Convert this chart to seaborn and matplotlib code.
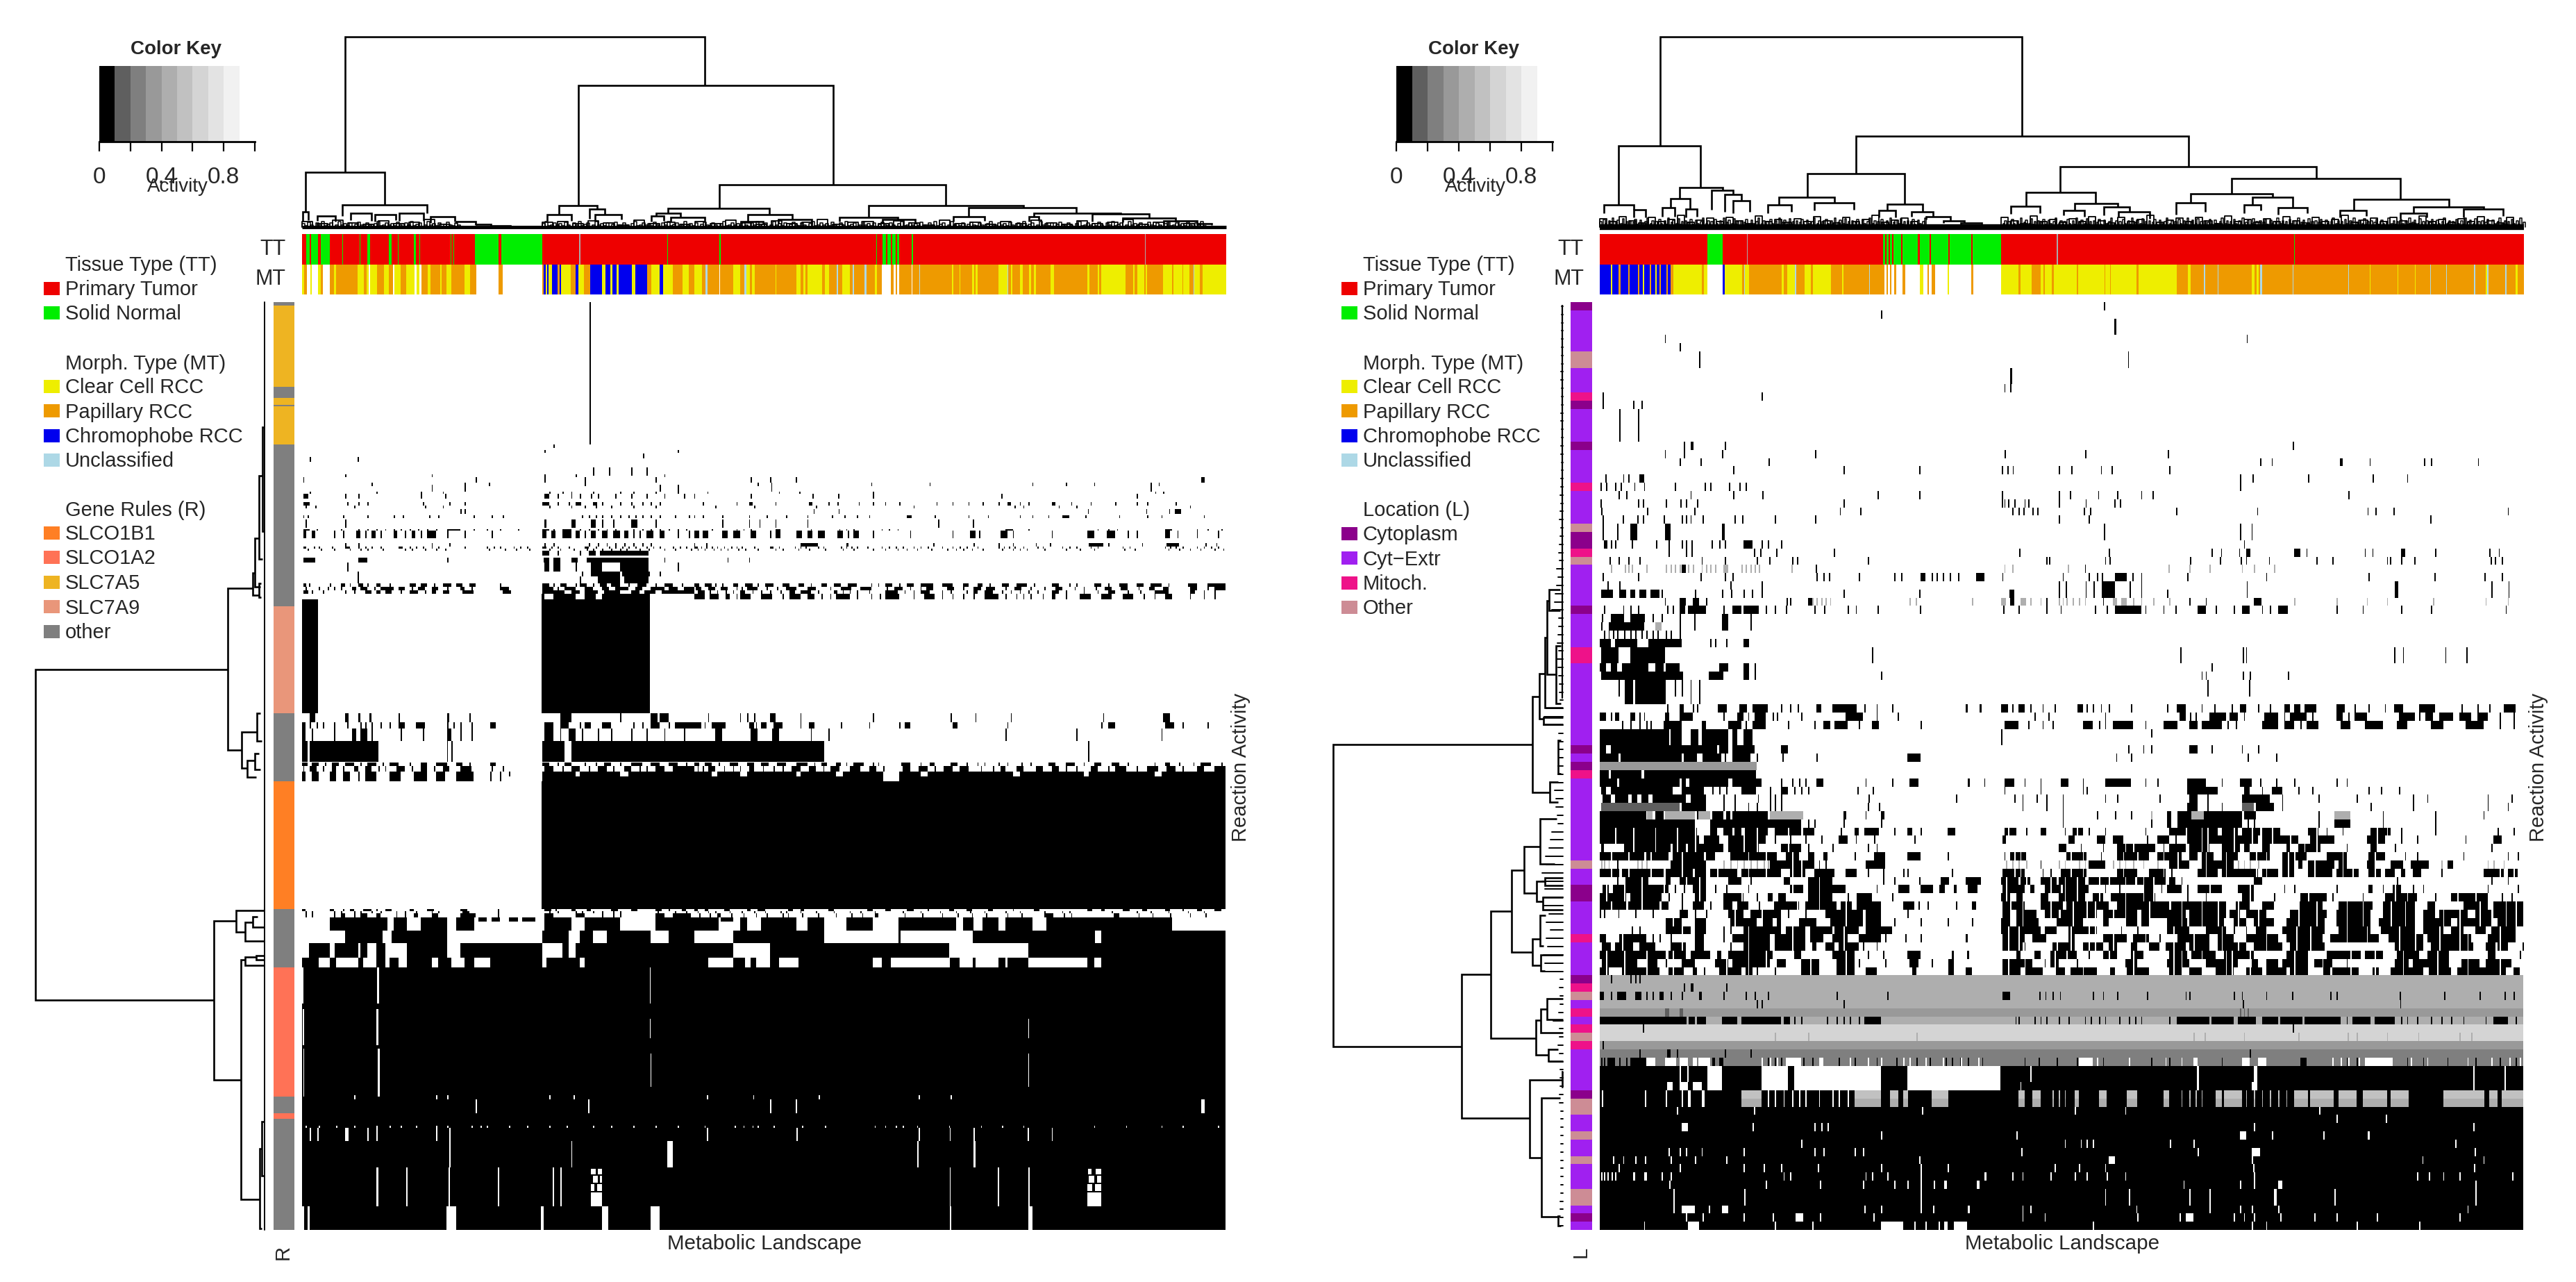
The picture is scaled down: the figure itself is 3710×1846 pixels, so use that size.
import matplotlib
matplotlib.use("Agg")
import numpy as np
import matplotlib.pyplot as plt
import seaborn as sns
from matplotlib.colors import ListedColormap
from matplotlib.patches import Rectangle

sns.set_theme(style="white")
plt.rcParams["font.family"] = ["Liberation Sans", "DejaVu Sans"]

# ---- activity levels ----
BK, G1, G2, G3, G4, G5, G6 = 0.05, 0.15, 0.25, 0.35, 0.45, 0.55, 0.65
WH = 1.0
key_values = [0.05, 0.15, 0.25, 0.35, 0.45, 0.55, 0.65, 0.75, 0.85, 1.0]
key_colors = ["#000000", "#5f5f5f", "#7f7f7f", "#999999", "#aeaeae",
              "#c1c1c1", "#d4d4d4", "#e3e3e3", "#f1f1f1", "#ffffff"]
key_ticks = ["0", "", "0.4", "", "0.8", ""]

tissue_names = ["Primary Tumor", "Solid Normal"]
tissue_colors = ["#ee0000", "#00ee00"]
morph_names = ["Clear Cell RCC", "Papillary RCC", "Chromophobe RCC", "Unclassified"]
morph_colors = ["#eeee00", "#ee9a00", "#0000ee", "#add8e6"]
gene_names = ["SLCO1B1", "SLCO1A2", "SLC7A5", "SLC7A9", "other"]
gene_colors = ["#ff7f24", "#ff7256", "#eeb422", "#e9967a", "#7f7f7f"]
loc_names = ["Cytoplasm", "Cyt\u2212Extr", "Mitoch.", "Other"]
loc_colors = ["#8b008b", "#a020f0", "#ee1289", "#cd8c95"]

strip_colors = {"R": "#ee0000", "G": "#00ee00", "A": "#aaaaaa", "W": "#ffffff", "Y": "#eeee00",
                "O": "#ee9a00", "B": "#0000ee", "L": "#add8e6"}
strip_keys = list(strip_colors)

N_COLS = 1331
N_ROWS_LEFT = 1336
N_ROWS_RIGHT = 113

# ---- sample strips: (first sample, class) ----
tt_left = [(0, "R"), (6, "G"), (11, "R"), (13, "G"), (23, "R"), (27, "G"), (40, "R"), (58, "G"), (59, "R"),
           (83, "G"), (84, "R"), (94, "G"), (98, "R"), (125, "G"), (129, "R"), (138, "G"), (139, "R"), (161, "G"),
           (164, "R"), (169, "G"), (170, "R"), (214, "G"), (215, "R"), (218, "G"), (219, "R"), (249, "G"),
           (283, "R"), (287, "G"), (346, "R"), (399, "A"), (401, "R"), (526, "G"), (527, "R"), (601, "G"),
           (603, "R"), (827, "G"), (828, "R"), (836, "G"), (841, "R"), (843, "G"), (848, "R"), (850, "G"),
           (855, "R"), (857, "G"), (860, "R"), (878, "G"), (880, "R"), (1214, "A"), (1215, "R")]
mt_left = [(0, "Y"), (3, "O"), (7, "W"), (12, "Y"), (14, "W"), (23, "Y"), (27, "O"), (30, "W"), (40, "O"),
           (46, "Y"), (49, "O"), (80, "Y"), (89, "O"), (93, "Y"), (96, "W"), (98, "Y"), (108, "O"), (118, "Y"),
           (125, "O"), (131, "W"), (133, "Y"), (142, "O"), (150, "Y"), (162, "W"), (165, "Y"), (169, "W"),
           (172, "O"), (181, "Y"), (185, "O"), (199, "Y"), (201, "O"), (208, "Y"), (215, "O"), (234, "Y"),
           (242, "O"), (251, "W"), (283, "O"), (289, "W"), (346, "O"), (348, "B"), (351, "Y"), (353, "B"),
           (355, "Y"), (360, "B"), (368, "O"), (371, "B"), (373, "Y"), (387, "O"), (394, "B"), (398, "Y"),
           (406, "O"), (415, "B"), (432, "Y"), (437, "B"), (444, "Y"), (447, "B"), (453, "Y"), (456, "B"),
           (475, "Y"), (480, "B"), (497, "O"), (503, "Y"), (515, "B"), (520, "Y"), (534, "O"), (548, "Y"),
           (557, "O"), (565, "Y"), (574, "Y"), (576, "O"), (581, "L"), (584, "O"), (601, "W"), (602, "O"),
           (621, "Y"), (631, "O"), (637, "L"), (640, "Y"), (645, "O"), (648, "Y"), (652, "O"), (682, "Y"),
           (683, "O"), (712, "Y"), (718, "O"), (722, "Y"), (725, "O"), (728, "Y"), (749, "O"), (753, "Y"),
           (759, "O"), (770, "L"), (772, "O"), (778, "Y"), (783, "Y"), (789, "O"), (793, "L"), (795, "O"),
           (810, "L"), (813, "O"), (825, "Y"), (828, "O"), (835, "W"), (848, "O"), (852, "W"), (855, "O"),
           (857, "W"), (860, "O"), (878, "W"), (879, "O"), (889, "L"), (890, "O"), (936, "Y"), (938, "O"),
           (941, "O"), (947, "Y"), (948, "O"), (965, "Y"), (968, "O"), (970, "Y"), (973, "O"), (1003, "Y"),
           (1016, "L"), (1017, "O"), (1021, "Y"), (1023, "O"), (1029, "O"), (1034, "Y"), (1038, "O"), (1047, "Y"),
           (1050, "O"), (1054, "Y"), (1057, "O"), (1078, "Y"), (1083, "O"), (1131, "Y"), (1134, "O"), (1139, "O"),
           (1146, "Y"), (1148, "O"), (1151, "Y"), (1186, "O"), (1197, "Y"), (1199, "O"), (1203, "Y"), (1213, "O"),
           (1215, "Y"), (1217, "O"), (1240, "Y"), (1253, "O"), (1255, "Y"), (1268, "O"), (1269, "Y"), (1278, "O"),
           (1284, "L"), (1285, "Y"), (1293, "O"), (1297, "Y")]
tt_right = [(0, "R"), (155, "G"), (177, "R"), (212, "A"), (213, "R"), (408, "G"), (411, "R"), (413, "G"),
            (416, "R"), (418, "G"), (421, "R"), (423, "G"), (434, "R"), (436, "G"), (458, "R"), (461, "G"),
            (475, "R"), (477, "G"), (502, "R"), (504, "G"), (535, "R"), (537, "G"), (578, "R"), (658, "A"),
            (660, "R"), (1000, "G"), (1001, "R")]
mt_right = [(0, "B"), (16, "Y"), (18, "B"), (27, "O"), (30, "B"), (41, "O"), (43, "B"), (55, "O"), (57, "B"),
            (62, "Y"), (64, "B"), (72, "O"), (74, "B"), (80, "Y"), (82, "B"), (86, "O"), (88, "B"),
            (96, "O"), (98, "B"), (102, "O"), (106, "Y"), (117, "Y"), (147, "O"), (150, "Y"), (155, "W"),
            (177, "B"), (180, "Y"), (205, "O"), (208, "L"), (209, "Y"), (215, "O"), (220, "O"), (262, "Y"),
            (265, "O"), (270, "Y"), (281, "L"), (283, "O"), (295, "Y"), (304, "O"), (307, "Y"), (333, "O"),
            (349, "Y"), (351, "O"), (388, "L"), (389, "O"), (410, "W"), (413, "O"), (415, "W"), (418, "O"),
            (420, "W"), (424, "O"), (427, "W"), (436, "O"), (440, "W"), (461, "Y"), (466, "W"), (472, "O"),
            (474, "W"), (478, "O"), (483, "W"), (501, "Y"), (503, "W"), (535, "O"), (538, "W"), (578, "Y"),
            (603, "O"), (606, "Y"), (622, "O"), (635, "Y"), (639, "O"), (641, "Y"), (651, "O"), (654, "Y"),
            (687, "O"), (689, "Y"), (727, "O"), (728, "Y"), (735, "O"), (736, "Y"), (773, "O"), (776, "Y"),
            (831, "O"), (847, "Y"), (851, "O"), (870, "L"), (872, "O"), (890, "L"), (891, "O"), (939, "Y"),
            (943, "O"), (946, "Y"), (949, "O"), (951, "L"), (954, "O"), (998, "L"), (999, "O"), (1078, "L"),
            (1079, "O"), (1109, "Y"), (1110, "O"), (1149, "Y"), (1150, "O"), (1174, "Y"), (1175, "O"), (1196, "L"),
            (1197, "O"), (1219, "L"), (1220, "O"), (1259, "L"), (1261, "O"), (1276, "Y"), (1278, "L"), (1280, "O"),
            (1304, "L"), (1306, "O"), (1319, "Y"), (1322, "O")]

# row side bars: (first row/pixel row, class index)
gene_left = [(0, 4), (5, 2), (122, 4), (138, 2), (148, 4), (150, 2), (205, 4), (438, 3), (592, 4), (690, 0),
             (874, 4), (958, 1), (1144, 4), (1168, 1), (1176, 4)]
loc_right = [(0, 0), (1, 1), (6, 3), (8, 1), (11, 2), (12, 0), (13, 1), (17, 0), (18, 1), (22, 2), (23, 1),
             (27, 3), (28, 0), (30, 2), (31, 3), (32, 1), (37, 0), (38, 1), (42, 2), (44, 1), (54, 0), (55, 1),
             (56, 0), (57, 2), (58, 1), (68, 3), (69, 1), (71, 0), (73, 1), (77, 2), (78, 1), (82, 0), (83, 2),
             (84, 3), (85, 1), (86, 2), (87, 1), (88, 2), (89, 3), (90, 2), (91, 1), (96, 0), (97, 3), (99, 1),
             (101, 3), (102, 1), (104, 3), (105, 1), (108, 3), (110, 1), (111, 0), (112, 1)]

# ---- cell bands: (first row, last row, activity, runs on crop scale A, runs on crop scale B) ----
A_LEFT, B_LEFT = (0.638, -435), (0.51, 565)
A_RIGHT, B_RIGHT = (0.638, -424), (0.58, 496)

bands_left = [
    (0, 205, BK, "1331", ""),
    (205, 210, BK, "1250", ""), (213, 217, BK, "1230 1530", ""), (218, 225, BK, "1452", ""),
    (223, 230, BK, "700 808", ""), (238, 250, BK, "1340 1375 1425 1460", ""),
    (248, 252, BK, "780 975 1230 1300 1500", ""),
    (252, 260, BK, "685 1075 1230 1320 1480", "160 215 288 1433-1443"),
    (260, 265, BK, "840 1050 1105 1320", "180 218 500 665 955 1050 1130 1290 1312"),
    (263, 273, BK, "975 1050 1490 1530", "218 1290"),
    (273, 276, BK, "700 850 950 1000 1240 1270 1290 1340 1400 1430 1480 1530", "38 240 298 505 1302 1325"),
    (276, 283, BK, "685-697 780 810 950 1005 1230-1240 1260 1290 1310 1335 1350 1390 1425 1460 1500 1545",
     "0 335 868 160 407 505 1250"),
    (288, 293, BK, "685-700 785 810 830 955 1015 1050 1225-1240 1260 1285 1300-1312 1340-1348 1360 1400 1425 1450 1470 1490",
     "25 120 155-165 230 325-335 380 405 465 505 540 580 685 730 775 815 860 885-895 920 945 1010-1020 1065 1120 1190 1250 1280 1360"),
    (293, 297, BK, "690 712 800 960 1000 1240 1290 1320 1345 1380 1430 1480",
     "60 170 345 620 905 930 1030 1080 1400"),
    (298, 305, BK, "1040 1050", "338 408 1112 1277 1342 1358-1376"),
    (307, 311, BK, "685 695 775 830 890 910 970 990 1070 1110 1135 1315 1330 1345 1360 1380 1400 1420 1435 1450 1470 1490 1525 1555",
     "0 25 80 155 205 260 320 390 425 460 495 600-615 680 775 830 920 955 1000 1040-1060 1105 1200 1280 1320 1440"),
    (313, 325, BK, "690 780 1230-1235 1290-1300 1335-1345 1360 1385 1425-1440 1480", "80 155 185 230 320 690 788"),
    (327, 329, BK, "685-700 715 770 810 830 850 870 890 905 925 945 965 985 1010-1040 1070 1100 1130 1170 1225-1240 1250 1270-1290 1310 1330 1350 1370 1390 1430 1450 1470 1490 1510 1530 1550",
     "50 120 140 160 230-245 330 410 430 450 530 550 575 880-900 945 1140 1170 1195 1330-1350 1420 1450 1490"),
    (329, 340, BK, "685-692 705-712 755 775 805-815 825 840-848 860 890-897 915 930-938 950 965-985 1010 1050 1110 1225-1235 1245-1255 1270-1290 1300-1310 1320 1335-1345 1360-1372 1385-1400 1410-1420 1430 1445 1460-1475 1490-1500 1530 1555",
     "0-15 25-40 80-95 110-130 160-175 215 230-245 290-305 320-335 350-370 405-420 435 450-465 505 610 730 780-795 805 865-885 900 1010 1110-1130 1165-1190 1225 1250 1330-1345 1365 1420 1480"),
    (347, 352, BK, "780 810 975 1015 1230 1250 1330 1350 1370 1390 1410 1430 1450 1470", "0 35 300-350 430-436 675-680 790 860 900 965 1005 1115-1155 1170 1265 1335-1370 1445 1475"),
    (352, 355, BK, "685-692 710 720 750 780-790 810 825 840 860 900-910 925 940 955 975 990 1050 1100 1115 1130 1160 1175 1190 1225-1235 1245 1260 1285 1320-1330 1345 1375 1390 1405 1420 1435 1460 1475 1490 1520 1535 1550",
     "0-10 20 35 50 65 85 105 120 135 170 215-225 240 285 300 315 350 365 415 430 445 460 490 530 550 570 590 620 640 660 700 730 750 770 800 860 875 890 905 930 970 985 1040 1060 1080 1120 1140 1210 1230 1330 1345 1360 1380 1420 1440 1460 1480"),
    (355, 358, BK, "695 725 755 790 815 830 865 915 930 960 985 1005 1105 1140 1165 1195 1240 1265 1295 1325 1340 1360 1380 1400 1415 1445 1465 1500 1525 1560",
     "10 30 55 75 95 125 145 180 230 250 295 325 370 420 450 505 540 575 600 630 670 715 740 760 785 815 870 900 920 940 990 1050 1090 1130 1215 1245 1340 1370 1400 1430 1470 1495"),
    (358, 365, BK, "1225-1240 1260 1310 1330-1345 1355-1465", ""),
    (368, 375, BK, "685-712 810-830 1010 1228-1240 1250-1265 1290-1305 1325-1465 1500", "95 155"),
    (375, 388, BK, "785 1230-1240 1250-1265 1300 1335-1360 1400-1465 1530", ""),
    (388, 395, BK, "808 1315 1335-1400 1405-1468 1490", ""),
    (395, 405, BK, "808 1310 1350-1400 1410-1465", ""),
    (405, 410, BK, "685-692 698 745 770-780 790 810-820 830 850-860 880 925-940 950-965 980 1000-1020 1030-1045 1060-1075 1130 1225-1240 1250 1265-1280 1300 1310-1325 1340 1355-1370 1380-1400 1420 1440-1460 1480 1500-1520 1540",
     "0-15 30-50 60 80 110-125 145-165 180 200-225 250-270 295-310 330 360-375 395-415 435-460 500 520 540-560 580 600-620 640-675 700-730 760-775 800-815 835 870-890 910-940 960 1010-1030 1060 1080 1130-1150 1170 1200-1225 1250-1270 1290-1320 1340 1395-1420 1450-1500"),
    (410, 415, BK, "690 720 740 755 770 795-805 815-830 845 860-890 900-915 930 945-960 975-990 1010 1040-1050 1065 1130-1150 1225-1250 1260 1275-1300 1320-1340 1360-1375 1390-1420 1435-1450 1470-1500 1510-1530 1545-1568",
     "5-20 40-60 75-95 120 135 150-180 205 235 260-290 320-345 385 415-445 470-500 545 565-590 610 640 655-675 715-735 760 790-810 825-850 880 905-925 950 990 1020-1040 1075 1100 1135 1160-1180 1205-1225 1255 1285-1300 1325-1340 1400-1420 1450 1470-1500"),
    (415, 420, BK, "685-697 705 730 780 800 825-840 850-860 870-885 905 925-945 960 975-985 1000-1015 1045-1070 1135-1155 1225-1275 1290-1310 1320-1350 1365-1400 1425-1445 1455-1480 1495-1568",
     "10-30 45 65 90 110 130-145 165 190 215 245 270-285 300-330 350 395-405 420 440 460 495 540-575 595 620 640-665 700 725 770 790-800 820-845 870 895 920 945 970 1010-1030 1050 1100 1140 1170-1190 1225 1260 1300-1340 1400-1415 1440 1470"),
    (420, 428, BK, "1223-1230 1250-1300 1320-1345 1360-1468", "0-30 45-70 90-100 120 130-160 190-220 250 270-300 320-340 360 385 400-440 460 500 525 540-580 620 650-680 700 730 760 790 820-860 880 910 930 950 985 1010-1020 1050 1090-1120 1150-1180 1210-1240 1270 1300 1330-1350 1400 1440 1470"),
    (428, 592, BK, "682-718 1223-1468", ""),
    (592, 605, BK, "700-712 780-787 810-815 835-840 900 1010-1015 1060 1265-1290 1400 1470-1485 1490-1510",
     "40 130 150 170 215-230 300 505 725 795 895 1155 1325-1345"),
    (605, 614, BK, "682-690 700 715 730 755 785 815 825 840 860 880 900-915 940-960 1010 1025 1040 1065 1107-1120 1230-1250 1265-1285 1310 1320-1335 1360-1380 1430 1450 1470-1490 1510 1525-1568",
     "0-20 30 50-90 155-170 175 190-205 225-250 300 325-340 415 495 580 595-610 730-745 885 1150 1170-1190 1330-1355 1380 1450"),
    (614, 632, BK, "682-690 705 755 795-805 815-830 840 905 955 1010-1020 1040 1065 1230-1250 1265 1285-1300 1315 1350 1380 1425 1460 1500 1545",
     "60-80 160-180 220-240 330 380 880 1080 1320"),
    (632, 662, BK, "682-695 700-855 1010-1012 1020-1023 1225-1275 1290-1568", "0-368 1112-1117"),
    (663, 668, BK, "682-695 705-720 735 750-765 780-800 815 830-850 865 880-900 925 950-965 985-1010 1030-1045 1060 1107-1120 1225-1240 1260 1275-1290 1320 1345 1365-1380 1400 1425-1450 1470-1490 1510-1530 1550",
     "0-15 30-50 70 100-125 150-170 190-210 235-260 290-320 340 360-375 400-415 430 450-480 505 520 585-610 640 665-680 725-745 770 800 820 860 885 925 950 1000-1020 1050-1075 1100 1130-1150 1180-1200 1225 1300 1330-1345 1370 1410 1430-1460 1490"),
    (668, 676, BK, "685 700-715 730 750-760 775 800-810 825-840 855 870 895-915 930 950-965 980 1000-1015 1040-1065 1110 1135 1230-1250 1270 1290-1310 1330 1350-1370 1385 1410-1425 1445 1460 1480-1500 1520-1568",
     "10 25 40-60 85 110 130 155-170 195 225 250 275-300 325-345 365 385-410 440-470 495-515 535 590-610 635-660 680 705-730 750-775 810 845 865-880 910-930 965-985 1010-1030 1050 1080 1120-1140 1170 1190-1220 1250 1280-1310 1335-1360 1380 1420-1440 1470-1500"),
    (676, 683, BK, "682-690 705-720 745-760 775-790 810 825-850 880-905 935-965 985-1005 1030-1070 1107 1130 1150 1225-1300 1310-1400 1420-1568",
     "0-50 65-130 150-290 300-400 420-535 580-640 660-900 920-1100 1115-1300 1320-1501"),
    (683, 690, BK, "682-690 705-720 745-760 775-790 810 825-850 880-905 935-965 985-1005 1030-1070 1107 1130 1225-1568",
     "0-535 580-1501"),
    (690, 874, BK, "1223-1568", "0-1501"),
    (874, 877, BK, "682-690 745-755 775 790-800 820-840 850 870-885 925-935 965-980 1040-1055 1125 1230-1245 1255 1290-1300 1325-1335 1380-1395 1425-1440 1480-1495 1510 1540-1550",
     "0-10 30-40 85-100 150-160 180-200 265-280 300-310 380-395 490-505 540-555 600-620 660 720-735 770-785 830-845 900 960-975 1110-1125 1150-1160 1210-1230 1265-1280 1330-1345 1380 1420-1435 1470-1490"),
    (877, 880, BK, "690 705 755 770 800 815 840 860 895 915 940 975 990 1045-1060 1125 1240 1260 1300 1315 1340 1360 1385 1400 1485 1525 1550",
     "10 40 60 100 135 170 200 245 260 300 345 395 440 470 510 590 640 695 740 780 820 880 920 990 1040 1060 1180 1250 1290 1340 1395 1440"),
    (880, 886, BK, "690 705 755 770-780 800 815-830 850-860 895 915 935-945 975-990 1040-1075 1125 1230-1250 1300-1320 1360 1385 1400 1480-1500 1520-1560",
     "15 45 65-75 105 140 175 205 250 265 305 350 400 445 475 510-520 595 645 700 745 785 825 885 925 990-1015 1045 1065 1185-1200 1255 1295 1345 1400 1445"),
    (886, 892, BK, "745-875 890-920 950-1010 1030-1072 1080-1100 1110-1130 1150-1170 1180-1210 1230-1290 1320-1400 1480-1568",
     "0-70 75-110 130-150 190-290 320-368 430-505 578-740 760-790 815-860 880-955 995-1350"),
    (892, 905, BK, "745-875 890-920 950-1010 1030-1072 1230-1290 1320-1400 1480-1568",
     "0-70 130-150 190-290 320-368 430-505 578-740 760-790 815-860 880-955 995-1350"),
    (905, 923, BK, "780-865 885-1010 1225-1285 1310-1340 1370-1470 1510-1568",
     "110-368 578-584 788-955 955-1133 1150-1501"),
    (923, 944, BK, "698-715 715-745 757-810 815-830 850-870 920-1010 1040-1225 1270-1285 1300-1568",
     "0-110 215-720 945-1501"),
    (944, 958, BK, "682-720 745-760 810-820 850-870 880-900 920-975 990-1020 1050-1072 1108-1225 1235-1310 1320-1568",
     "0-40 110-145 160-175 215-240 295-505 530-555 722-750 788-795 860-880 885-945 1110-1130 1150-1501"),
    (958, 1336, BK, "682-1568", "0-1501"),
    # white ticks and speckle on the solid lower block
    (958, 1010, WH, "683-686 852-856 1468-1470", ""),
    (1018, 1070, WH, "684-687 851-855", ""), (1032, 1060, WH, "1468-1470", "945-947"),
    (1075, 1144, WH, "685-688 853-858", ""), (1082, 1130, WH, "1469-1471", "945-947"),
    (1142, 1148, WH, "800 985 1010 1240 1295", "37 167 352 635 725"),
    (1148, 1168, WH, "1074 1328", "215 288 1433-1443"),
    (1186, 1189, WH, "690 720 760 800 850 880 905 940 985 1010 1065 1085 1100 1150 1190 1240 1280 1340 1380 1430 1480 1530",
     "30 115 140 165 180 225 305 370 510 540 570 590 630 720 810 870 930 1130 1220 1320 1380 1480"),
    (1189, 1208, WH, "700 717 780-787 830 850 985 1015", "37 290 635 722 790 943 1010"),
    (1208, 1246, WH, "1015 1290 1507-1520", "630-634 790-795"),
    (1246, 1302, WH, "851-855 918-921 1014 1124 1248 1266", "722 858 945"),
    (1248, 1256, WH, "1335-1345 1350-1360", "1112-1122 1135-1150"),
    (1258, 1268, WH, "1340-1350 1355-1360", "1115-1130 1138-1150"),
    (1270, 1280, WH, "1335-1342 1348-1360", "1110-1125 1132-1150"),
    (1282, 1302, WH, "1335-1360", "1110-1150"),
    (1302, 1336, WH, "682-688 695-700 1008-1030 1222-1228 1360-1374 1470-1490", "722-727 945-955"),
]

bands_right = [
    (0, 1, BK, "", "398"), (1, 2, BK, "1300", ""), (2, 4, BK, "", "424-429"), (4, 5, BK, "812", "752"),
    (5, 6, BK, "846", ""), (6, 8, BK, "890", "457"), (8, 10, BK, "", "165-169"), (10, 11, BK, "", "150 165"),
    (11, 12, BK, "671 1031", ""), (12, 13, BK, "671 740 760", ""), (13, 17, BK, "710 752", ""),
    (17, 18, BK, "855 870-877 948", "867"), (18, 19, BK, "812 855 942 1152", "151 351 556"),
    (19, 20, BK, "846 892 1047", "785 814 984-990 1057 1192 1210 1326"),
    (20, 21, BK, "967 1215 1387", "144 158 171 285 317 390 416 560"),
    (21, 22, BK, "678 718 730 755-765", "735 767 905 1065 1150"),
    (22, 23, BK, "667 680 700 712 743 765 835 902 915 957 980 995", "735"),
    (23, 24, BK, "708 725 870 967 1032 1292 1387", "144 285 313 383 430 490 518 1004"),
    (24, 25, BK, "667 752 762 815 847 860 885 1215", "144 150 160 175 200 210 285 352 424 437"),
    (25, 26, BK, "668 772 878 1207 1253", "170 185 197 220 232 347 363 577 778 1052 1072 1117 1400"),
    (26, 27, BK, "672 717 750 762 810 850 860 870 898 970 987 1060 1152", "285 360 1208"),
    (27, 29, BK, "672 705 735-750 812-825 942-948", "398 735 764"),
    (29, 30, BK, "675-682 690 700 738 792 820 850 860 872 918 935 947 990-1010 1030 1045 1075", "745"),
    (30, 31, BK, "820 860 872 1013 1028 1063 1193", "187 410 665 688 733 750-762 870-885 900 1045 1064 1135-1145 1220 1355 1378"),
    (31, 32, BK, "688 708 730 755 895 947 1020 1048 1100 1110 1270", "255 262 400 412 612 685 737 750 807 925 965 1100 1108 1135 1168 1358 1368 1385"),
    (32, 33, G4, "690 722 730 738 770 815 825 835 845 865 875 895 905 915 925 945-955 985 995 1005 1015 1025 1098", "150 170 308 558 610 660 740 770 820"),
    (32, 33, BK, "1153 850-860", "350"),
    (33, 34, BK, "672 752 893 947 965 1155 1170 1183 1250 1330 1345 1390-1400 1415 1425 1440 1455 1475 1515-1533",
     "15 35 80-100 145 295 360 380 392 425-455 468 490 605 800 1055 1218 1343 1385"),
    (34, 35, BK, "683 710 960 1030", "285 303 352 372 392-425 462 490 752 1120-1128 1360 1402"),
    (35, 36, BK, "668-695 710-725 735-745 755-770 780-800 805 880 942 962 990 1008 1030 1215 1387", "163-175 285 303 352 372 392-425 462 490 555 752 1120-1128 1360 1402"),
    (36, 37, G4, "1135 1145 1155 1165 1175 1185 1365 1378 1505", "142-155 165 190-205 215 240 285 295 305 320 335 350 420-430 440-455 470 490 520 560 870 975 1050 1100 1215 1345 1400"),
    (36, 37, BK, "812 845-860 875-890 905 1087 1095 1135-1145", "165-175 255 395 610 770-788 650"),
    (37, 38, BK, "675 718 735 752 818 830 845-858 865-905 945 965-985 990-1025 1040 1060 1085 1150 1172 1225 1243 1293 1388",
     "147 185 255 290 375 405 425-490 500 545 575 630-650 675 720 740-760 790 810 830-855 975 1040 1135 1210 1395"),
    (38, 39, BK, "670 690-720 735-768 785 805 845 878 942-955 1005", ""),
    (39, 40, BK, "668 685-765 845 878 942-955 1005", ""),
    (39, 40, G4, "790-805", ""),
    (40, 41, BK, "675 685 695 705 720 735 745 760 770 785 795 815 825 845", ""),
    (41, 42, BK, "665-690 700-750 775-850 915 925 950 990-1003", ""),
    (42, 44, BK, "668-708 735-813 1280", "587 742 750 1118 1140 1245 1298"),
    (44, 45, BK, "665-680 690-705 715-775 790-810 815-845 935-955 990-1003 1015", "665"),
    (45, 46, BK, "668-853 912-945 990-1003 1015 1300", "640 650 742 760 855"),
    (46, 48, BK, "708 722-740 745-815 835 850 870 890", "655 758"),
    (48, 49, BK, "722-740 745-815 870 890", ""),
    (49, 50, BK, "818 845-855 875 885 932-952 980-998 1010-1045 1075 1095 1112 1155-1165 1190-1245 1262 1290 1325 1493 1525",
     "55 88 142-160 170 185-200 215 245 275 332-345 355 370 390 410 465 555 578-600 640 672 715 735-750 780 810 845-860 870-885 895-925 975-995 1020 1055 1095 1118-1140 1180-1220 1285 1325 1355 1390-1420"),
    (50, 51, BK, "665-680 690 700-710 735-745 755 765 812-822 845-875 945 975-990 1000 1015-1040 1055 1065 1120 1220-1260 1290 1338",
     "225 260 400 585-600 612 625 660-700 710-730 745 795-830 845 860-900 915 975-990 1005 1020-1050 1130-1170 1180 1195-1215 1230-1265 1280-1310 1325-1350 1380 1415"),
    (51, 52, BK, "715 735 755 770 780 810-850 895-905 955-985 995 1010-1040 1090 1150 1170-1185 1195-1225 1250 1280-1295 1390",
     "150-185 210 245 270 345-370 385 400 420-470 500 545-580 610-630 640-690 705 725 790-830 845-870 885 900-930 985-1010 1045-1090 1125-1150 1210-1240 1295-1340 1380 1415"),
    (52, 54, BK, "665-822 825-850 870-888 895-955 965-975 990-1010", "142"),
    (52, 53, BK, "", "515"),
    (54, 55, BK, "665-680 690-885 885-930 935-955 965-1015 1075-1090", "458 495 515 610-630 665 740 780"),
    (55, 56, BK, "665-708 712-850 855-885 897-940 948 965-1005 1020 1077 1155 1360-1390", "428 465 755 825"),
    (56, 57, G3, "665-1020", ""), (57, 58, BK, "665-685 690-760 765-1018", ""),
    (58, 59, BK, "665-705 710-845 850-860 868-955 965-1030 1075 1100 1115 1130 1155-1170 1265 1325 1365-1385 1497 1533",
     "60 100 150-175 200 240 290-310 345 400-465 500 530 605-650 690 735-765 785 825 870 975 1000"),
    (59, 60, BK, "668-680 690-830 850-900 920 935 950 985-1018 1050 1075-1090 1105 1120 1135 1247 1282",
     "150 240 345 355 605-680 745-760 790 815-840 880 915 1055 1085 1130"),
    (60, 61, BK, "672-690 700-730 738-750 760-775 785-860 870-905 945 970 1022 1050 1060 1075 1272 1470",
     "30 175 195 230 255 295 400 430 535 610-630 655 740-810 840 930 1025 1165 1200 1350 1410"),
    (61, 62, G1, "668-845", "740-770"),
    (61, 62, BK, "850-905 945 970 1000 1020 1050 1060 1075 1270 1295", "195 255 295 605-630 655 690 775-820 840 1060 1165 1350 1400"),
    (62, 63, BK, "665-770 790-810 885 920-945 950-960 965-1045 1215-1222 1265 1300-1308", "295 380 425 465 555-565 580-615 645-740 745-775 930 1090 1220 1340"),
    (62, 63, G4, "772-785 812-880 888-915 1050-1125", "515 615-645 970-1010"),
    (63, 64, BK, "665-880 915-1120 1135 1150 1215 1300", "295 515 555-565 580-740 755 770 930 970-1010 1090 1220"),
    (64, 65, BK, "665-885 915-930 945-965 970-985 990-1045 1060-1120 1125-1150 1210 1240-1250 1262-1295 1330 1360-1370 1390 1450-1468",
     "10-28 150-180 205 240-255 300 320-345 360 400 500 560-600 605-680 690-730 740-785 790-835 905-930 950 990 1060-1110 1135 1220 1375 1415"),
    (65, 66, BK, "665-890 900-935 955-1040 1060 1095 1130 1165 1205-1225 1243 1285 1375",
     "145-155 310-325 380-400 420-445 470 505 530-560 575 605-780 790-880 910-970 1050-1095 1135 1175 1260 1295 1365-1385"),
    (66, 67, BK, "668-675 720-825 830-860 865-945 955-1025 1050 1075-1120 1135 1190 1270 1290",
     "285-305 340 395 430-525 545 560-600 610-660 690-735 745-760 790-810 850-860 880-935 1000 1060-1075 1120 1360"),
    (67, 68, BK, "665-765 770-820 830-900 905-925 960-1065 1085-1115 1135-1150 1170-1180 1240 1285-1310 1360-1390 1450",
     "10 150 165-205 305-355 390 430-510 530-590 610-630 640-670 690-730 760-810 840-900 950-1000 1055-1095 1145 1175 1290 1400 1425"),
    (68, 69, G4, "668 675 685 750 760 770 780 930 945 960 975 990 1005 1020 1035 1045", "155 170 185 205 285 300 315 335 350 420 435 450 470 495 530 730 745 760 780 1235 1350 1365 1390"),
    (68, 69, BK, "705 730 825-905 1050-1150 1160 1175 1265-1310", "240 360-400 560-610 640-720 840-870 880-890 905-970 980-1000 1050-1070 1110-1140 1160-1205 1250-1265"),
    (69, 70, BK, "665-710 715-810 815-875 880-905 915-975 985-1075 1095-1130 1150-1195 1220-1245 1270 1305 1350 1360 1460",
     "20 145-200 245 265 290-355 430-480 510-550 565 630-680 690-780 790-830 840-870 905-965 975-1030 1055-1085 1095-1120 1135-1145 1165-1185 1235 1340-1390 1400-1425"),
    (70, 71, BK, "705 720-775 815-825 845-905 955-985 1005 1080-1095 1135-1190 1305 1330 1387 1435-1450 1495-1525",
     "10 55 70 90 142-185 190-215 240-280 285-350 360-475 480-550 560-575 590 770-790 1125 1360 1400"),
    (71, 72, BK, "672-685 695-820 835 855 875-905 925 950 1000 1015 1095-1125 1135-1220 1290 1340-1365 1390-1418 1432-1445 1468 1515",
     "0 25 60-80 145-200 215-225 250-290 295-360 400 435 495-520 540 555-590 605 630-690 730-770 845 870 975 1055-1065 1090 1115-1135 1165 1190 1350 1425"),
    (72, 73, BK, "665-725 735-805 820 850 880-905 945-990 1020 1045-1055 1065-1085 1135-1190 1225 1245-1280 1325",
     "142-165 180-195 240-260 285-350 370-395 415-525 605 650 740-770 820 885-950 965 1040 1095-1175 1220 1260-1350 1385 1410"),
    (73, 74, BK, "665-725 730-800 805-820 850 875-900 915 945-965 975-1000 1025 1058-1115 1130-1200 1210-1235 1245-1300 1350-1375 1385 1405 1470 1505-1515",
     "30 70-80 145-200 240-295 305-410 430-560 565-700 725-760 790-820 880-940 980-1065 1090-1170 1200-1220 1290-1350 1365-1439"),
    (74, 75, BK, "665 675 707 745 785 845-865 880 905 955-990 1005-1075 1090 1130 1175-1260 1265-1300 1360",
     "145-165 180-230 250-285 290-380 395-480 490-600 610-700 710-735 750-800 860-950 975-1060 1090-1170 1190-1220 1230-1300 1320-1360 1365-1439"),
    (75, 76, BK, "815-850 880-905 960-1020 1030-1055 1065-1075 1115-1155 1185-1260 1265-1300 1330 1390 1450 1505",
     "10 70 142-165 180-235 280-345 395-410 450-480 490-510 555-605 610-695 720-750 770-820 850-945 975-1060 1080-1170 1190-1260 1275-1360 1375-1439"),
    (76, 77, BK, "738 755 815-870 880-905 945 960 990-1075 1085-1130 1140-1190 1195-1250 1265-1325",
     "142-240 250-280 310-380 440 480 555-610 650-700 720 750 775-800 840-945 980-1060 1085-1170 1190-1240 1260-1290 1320-1345 1360-1420"),
    (77, 78, BK, "665-680 710-770 785 800 825 850 880-900 945 965-1050 1060-1130 1140-1170 1190-1225 1250-1300 1310 1355 1390 1493",
     "55 145-200 220-255 310-325 395-455 470-510 535 580-660 680-720 750-830 850-940 960-1080 1105-1190 1200-1310 1350-1420"),
    (78, 79, BK, "670-690 700-740 755-790 825-860 880-900 960 990-1050 1060-1130 1145-1155 1175-1195 1205-1250 1260 1290",
     "145-195 200 270-325 345-395 410-430 465-480 510-535 550-600 610-660 680-750 770-840 860-945 1120-1190 1210-1315 1345-1370 1375-1400 1437"),
    (79, 80, BK, "665-815 820-860 870-915 930-940 955-1055 1105-1120 1190-1240 1270 1305 1360-1390 1460 1495",
     "22 60 180-190 225-240 265-330 360 395-430 465-495 560-605 615-675 695-770 850-905 950-1035 1045-1090 1125-1180 1200-1255 1350-1370 1430"),
    (80, 81, BK, "670-750 770-795 815 850-880 925-955 965-1050 1065-1085 1120-1160 1200-1240 1250 1310 1365-1385 1415 1455",
     "12-25 145-220 250 265-285 330 450-480 555-610 650-730 765-780 800-830 840-905 920-965 1000 1120-1155 1165-1255 1285-1330 1345-1410"),
    (81, 82, BK, "665-685 715-800 820-855 875-885 900 935-985 995-1010 1020 1060 1120-1160 1200-1240 1265-1290 1370-1380 1455 1495-1505",
     "12-25 55-70 145-190 200-245 275-300 315-380 410-425 455-510 560-590 610-640 675-720 750-790 800-850 860-905 940-960 965-1030 1065-1080 1110-1190 1205-1260 1275-1395 1415-1430"),
    # thin white stripes inside the dark runs of rows 64-81
    (64, 67, WH, "700 740 790 840 880 990 1020 1050 1090", "160 215 262 330 352 450 470 640 655 720 765 815 860 895 925 1010 1040 1075 1100 1260 1300 1340"),
    (67, 70, WH, "690 730 780 850 930 1000 1040 1100 1120", "175 190 225 315 345 445 480 545 580 650 700 775 800 855 870 920 990 1015 1070 1150 1205 1230 1275 1380 1415"),
    (70, 73, WH, "680 720 760 810 860 890 985 1015 1065 1100 1160", "155 205 265 300 330 385 410 450 495 520 620 660 700 760 860 905 1000 1050 1120 1150 1275 1320 1370"),
    (73, 76, WH, "690 760 830 970 1030 1110 1160 1220", "165 195 265 320 355 375 420 450 510 590 640 680 730 780 880 925 1000 1040 1110 1145 1240 1280 1330 1395 1420"),
    (76, 79, WH, "715 850 1000 1100 1215", "160 185 280 315 360 375 420 500 570 620 690 730 800 875 910 1000 1050 1130 1170 1230 1280 1300 1380"),
    (79, 82, WH, "680 720 770 830 950 1000 1040 1140 1220", "160 200 275 305 345 410 470 570 590 640 700 715 760 870 940 1010 1070 1140 1225 1300 1380"),
    # grey rows across all samples
    (82, 86, G4, "665-1568", "0-1439"), (86, 87, G3, "665-1568", "0-1439"),
    (87, 88, G4, "665-1568", "0-1439"), (88, 90, G6, "665-1568", "0-1439"),
    (90, 91, G3, "665-1568", "0-1439"), (91, 92, G2, "665-1568", "0-1439"), (92, 93, G2, "665-1568", "0-1439"),
    (82, 83, BK, "690 735 745 755", ""), (83, 84, BK, "855 870-877 950", ""),
    (84, 85, BK, "665-675 690 705-725 745-760 770 785 800-810 825 850 890-895 945 995 1015 1045 1200 1315", "145-165 237 252 270 288 370 395 430 505 600 610 720 740 800 865 960 975 1132 1242 1330 1392 1415"),
    (85, 86, BK, "1020 1030 1215", "742 1133"),
    (86, 87, G1, "812-822 845-853", "735 745 755"), (86, 87, G3, "", ""),
    (87, 88, BK, "665-862 866-880 885-905 942-975 985-1075 1080-1095 1105 1120 1178 1200 1215 1230 1250 1262-1300",
     "178 185 225 240 255 285 310 350 365 385 400 435 460 475 490 560 578-660 665-720 730-775 790-830 835-890 895-985 1000 1015-1060 1070-1120 1135 1150 1175 1210 1235 1260 1290 1345 1365-1400 1420"),
    (88, 89, BK, "763", "867"),
    (89, 90, G4, "1060 1135 1380", "620 647 745 880 1003 1025 1100 1178 1280 1310"),
    (90, 91, BK, "672", ""), (91, 92, BK, "755 818-825 840 947 1006", "760"),
    (92, 93, BK, "668 675 682-700 710 725 735-770 920-925 935-945 1030 1045 1060 1075 1125 1145 1205 1240 1290 1335 1380 1410",
     "5 20 40 60 95 200 235 280 330 395 460 515 560 690 745 885-900 1000 1025 1150 1190 1250 1320 1380 1420"),
    (92, 93, WH, "770-790 812-838 845-865 875-885 888-915 1030 1050 1065 1085-1120 1160-1170 1230 1270 1300 1350 1365 1400 1440 1480 1520",
     "335-370 380 460 550 590 620-630 740-760 780-800 965 985 1005 1030 1045-1115 1160 1200 1300 1360 1405 1430"),
    # black rows with white bands
    (93, 113, BK, "665-1568", "0-1439"),
    (93, 96, WH, "908-942 1030-1090 1105-1300 1360-1568", "0-140"),
    (93, 95, WH, "845 863", "215 628-634 770-778 1315 1393"),
    (95, 96, WH, "818-830 845-865 875-895", "190 628-634 765-778 1315 1393"),
    (96, 97, G5, "985-1030 1240-1300 1320-1340 1350-1362 1415-1452", "185-200 220-240 270 285 300 325-335 385-405 455-480 545-560 590 610 625 640 675-690 695-740 750 770 790 810 830 850 870-905 910-968 980-1025 1040-1100 1110-1155 1240-1342 1355-1375 1385-1439"),
    (97, 98, G4, "985-1030 1240-1300 1320-1340 1350-1362 1415-1452", "185-200 220-240 270 285 300 325-335 385-405 455-480 545-560 590 610 625 640 675-690 695-740 750 770 790 810 830 850 870-905 910-968 980-1025 1040-1100 1110-1155 1240-1342 1355-1375 1385-1439"),
    (96, 98, WH, "670 768 815 850 865-870 895-902 1045 1060 1080 1100 1115 1130 1160 1190 1205 1225", ""),
    (98, 99, WH, "840 1013 1393", "325 450 932"), (99, 100, WH, "", "975 1097"),
    (100, 101, WH, "850-865 1010 1150 1165 1180", "770 1315"), (101, 102, WH, "1300", "180 735-750 815 943 1052-1058"),
    (102, 103, WH, "1120", "300 340 355 370 562 620 1270"),
    (103, 104, WH, "820 845 860 895 990 1150 1170 1240 1260", "193 630 765-785 1318"),
    (104, 105, WH, "695 718 745 768 825 880 950 1387", "410-425 765 1188 1340"),
    (105, 106, WH, "708 845 990 1035 1075 1158 1300 1390 1450", "10 275 335 400 768 1316"),
    (106, 107, WH, "668 675 683 692 700 740-745 765-772 805 825 1080 1095 1265 1280 1315 1390 1535", "100 170 195 265 325 355 405 450 770 1175 1205 1240 1280 1412"),
    (107, 108, WH, "822 1040 1163 1260 1330 1360 1390 1420 1445 1520", "0-8 82 595 735 770 830-840 1320"),
    (108, 110, WH, "832 992 1390", "400 460 610 660 820-826 970 1320"),
    (110, 111, WH, "832 850-880 912 942-955 1262 1300 1390 1418 1498", "60 195 215 478 660 735 765 830 1300"),
    (111, 112, WH, "860 898 990 1055 1108-1125 1163 1283", "195 250 480 585 600-620 720 745 770 835 920 975 1075 1280"),
    (112, 113, WH, "765 865-890 1060 1145 1300-1350 1375 1400 1430 1468-1495", "0-10 25-55 370 765 800 1025 1180"),
]

# ---- dendrograms: (child a, child b, merge height, height a, height b) ----
tree_cols_left = [
    (62, 580, 274, 79, 204), (5, 119, 79, 22, 32), (58, 180, 32, 16, 20), (398, 765, 204, 31, 61),
    (370, 425, 31, 18, 26), (414, 436, 26, 12, 18), (422, 460, 18, 9, 11), (353, 388, 18, 9, 9),
    (601, 927, 61, 27, 31), (527, 673, 27, 20, 18), (510, 545, 20, 16, 14), (503, 521, 16, 8, 9),
    (531, 580, 14, 8, 9), (642, 706, 18, 8, 11), (632, 664, 8, 4, 4), (686, 734, 11, 5, 5),
    (816, 1039, 31, 14, 28), (774, 858, 14, 8, 11), (836, 883, 11, 5, 5), (960, 1115, 28, 15, 20),
    (938, 983, 15, 8, 9), (1054, 1179, 20, 15, 19), (1047, 1061, 15, 8, 9), (1138, 1220, 19, 8, 13),
    (1182, 1258, 13, 7, 9), (1241, 1289, 9, 5, 5), (1289, 1310, 5, 3, 3),
    (1, 9, 22, 8, 10), (22, 48, 16, 9, 8), (70, 100, 20, 10, 9), (105, 135, 18, 8, 10), (140, 175, 20, 9, 9),
    (185, 220, 15, 6, 8), (222, 250, 8, 5, 4), (250, 272, 4, 3, 2), (272, 300, 2, 1, 1),
]
tree_cols_right = [
    (87, 608, 274, 117, 131), (27, 145, 117, 32, 57), (6, 49, 32, 20, 25), (49, 66, 25, 14, 14),
    (115, 177, 57, 41, 53), (102, 130, 41, 28, 26), (161, 192, 53, 25, 47), (180, 204, 47, 22, 38),
    (192, 216, 38, 20, 22), (90, 108, 28, 15, 15), (124, 140, 26, 14, 15),
    (369, 848, 131, 77, 87), (299, 439, 77, 43, 33), (258, 338, 43, 32, 35), (242, 276, 32, 20, 22),
    (309, 366, 35, 24, 25), (414, 465, 33, 24, 22), (449, 480, 22, 15, 15), (470, 505, 15, 11, 9),
    (495, 525, 9, 6, 6), (520, 550, 6, 3, 3), (402, 426, 24, 14, 14),
    (663, 1032, 87, 50, 70), (614, 714, 50, 30, 34), (592, 634, 30, 19, 20), (684, 746, 34, 24, 29),
    (668, 698, 24, 17, 15), (726, 763, 29, 17, 22), (747, 792, 22, 15, 12),
    (910, 1153, 70, 48, 40), (851, 969, 48, 35, 43), (830, 872, 35, 18, 22), (940, 998, 43, 32, 28),
    (928, 952, 32, 20, 24), (977, 1019, 28, 18, 20), (1086, 1223, 40, 24, 29), (1066, 1104, 24, 14, 16),
    (1172, 1273, 29, 20, 26), (1153, 1191, 20, 12, 14), (1244, 1301, 26, 14, 16),
]
tree_rows_left = [
    (529, 1005, 330, 53, 73), (412, 645, 53, 17, 33), (390, 422, 17, 14, 8), (340, 410, 14, 8, 6),
    (250, 370, 8, 3, 3), (180, 330, 3, 1, 1), (405, 425, 8, 5, 5),
    (619, 671, 33, 11, 25), (592, 632, 11, 6, 4), (660, 684, 25, 14, 12), (650, 673, 14, 8, 6),
    (891, 1120, 73, 41, 34), (876, 907, 41, 0, 28), (893, 920, 28, 17, 0), (885, 900, 17, 10, 0),
    (947, 1292, 34, 28, 7), (943, 955, 28, 12, 0), (941, 947, 12, 0, 0), (1219, 1334, 7, 4, 4), (1180, 1258, 4, 1, 1),
]
tree_rows_right = [
    (637, 1072, 331, 44, 146), (568, 706, 44, 34, 19), (535, 600, 34, 26, 28), (483, 584, 26, 23, 0),
    (430, 536, 23, 20, 10), (414, 444, 20, 4, 4), (495, 578, 10, 3, 3), (598, 608, 28, 0, 0),
    (691, 720, 19, 7, 7), (631, 679, 7, 3, 3),
    (968, 1175, 146, 104, 48), (877, 1060, 104, 74, 39), (818, 936, 74, 56, 44), (784, 851, 56, 33, 38),
    (744, 809, 33, 9, 12), (834, 863, 38, 26, 29), (829, 840, 26, 0, 0), (857, 875, 29, 0, 0),
    (917, 955, 44, 33, 32), (883, 927, 33, 25, 28), (940, 963, 32, 0, 26), (1034, 1084, 39, 32, 21),
    (1018, 1052, 32, 23, 0), (1003, 1033, 23, 0, 0), (1076, 1093, 21, 7, 0),
    (1120, 1232, 48, 1, 31), (1146, 1317, 31, 4, 7), (1316, 1330, 7, 4, 3), (1108, 1130, 1, 0, 0),
]
row_ticks_right = [2, 2, 2, 2, 2, 2, 2, 2, 3, 3, 2, 2, 2, 3, 3, 2, 2, 3, 3, 2, 2, 3, 3, 4, 3, 4, 5, 3, 4, 5,
                   6, 5, 9, 7, 9, 11, 12, 16, 6, 6, 7, 8, 6, 9, 7, 6, 5, 5, 4, 24, 27, 28, 6, 5, 6, 5,
                   7, 7, 16, 12, 10, 10, 8, 7, 16, 18, 20, 25, 24, 30, 30, 26, 28, 27, 20, 24, 18, 24, 22, 28, 26, 30,
                   4, 5, 4, 4, 6, 14, 5, 5, 7, 5, 19, 4, 4, 4, 5, 5, 3, 3, 3, 3, 3, 3, 3, 3, 3, 3, 3, 4, 4, 4, 4]
small_heights = [7, 3, 10, 5, 2, 8, 4, 12, 3, 6, 9, 2, 5, 11, 4, 7, 3, 8, 2, 6, 10, 4, 3, 9, 5, 2, 7, 12, 3, 5, 8, 4]
mid_heights = [14, 9, 18, 11, 7, 16, 10, 13, 20, 8, 12, 15, 9, 17, 11, 6, 19, 10, 13, 8]


def expand_strip(runs, size):
    codes = np.zeros(size, dtype=int)
    for i, (start, key) in enumerate(runs):
        stop = runs[i + 1][0] if i + 1 < len(runs) else size
        codes[start:stop] = strip_keys.index(key)
    return codes


def expand_side(runs, size):
    codes = np.zeros(size, dtype=int)
    for i, (start, key) in enumerate(runs):
        stop = runs[i + 1][0] if i + 1 < len(runs) else size
        codes[start:stop] = key
    return codes


def paint(mat, text, r0, r1, value, scale):
    for token in text.split():
        if "-" in token:
            a, b = token.split("-")
        else:
            a, b = token, float(token) + 3
        c0 = int(float(a) * scale[0] + scale[1])
        c1 = int(float(b) * scale[0] + scale[1])
        mat[r0:r1, max(c0, 0):max(c1, c0 + 1)] = value


def build_matrix(bands, rows, scale_a, scale_b):
    mat = np.ones((rows, N_COLS))
    for r0, r1, value, runs_a, runs_b in bands:
        paint(mat, runs_a, r0, r1, value, scale_a)
        paint(mat, runs_b, r0, r1, value, scale_b)
    return mat


W, H = 3710, 1846
fig = plt.figure(figsize=(W / 100, H / 100), dpi=100, facecolor="white")


def pix_ax(x0, y0, x1, y1):
    return fig.add_axes([x0 / W, 1 - y1 / H, (x1 - x0) / W, (y1 - y0) / H])


def strip(ax, codes, colors):
    sns.heatmap(codes, ax=ax, cmap=ListedColormap(colors), vmin=-0.5, vmax=len(colors) - 0.5,
                cbar=False, xticklabels=False, yticklabels=False, rasterized=True)


def draw_tree(ax, merges, horizontal):
    for a, b, h, ha, hb in merges:
        xs = [a, a, b, b]
        ys = [ha, h, h, hb]
        if horizontal:
            ax.plot(xs, ys, color="black", lw=1.9, solid_joinstyle="miter", solid_capstyle="butt", clip_on=False)
        else:
            ax.plot(ys, xs, color="black", lw=1.9, solid_joinstyle="miter", solid_capstyle="butt", clip_on=False)


def draw_comb(ax, spans, step, amp, mid_step, mid_amp, base_lw):
    k = 0
    for start, stop in spans:
        x = start
        while x < stop:
            h = small_heights[k % len(small_heights)] * amp
            ax.plot([x, x, x + step, x + step], [0, h, h, 0], color="black", lw=1.1, clip_on=False)
            x += step
            k += 1
    k = 0
    for start, stop in spans:
        x = start
        while x < stop - mid_step:
            h = mid_heights[k % len(mid_heights)] * mid_amp
            ax.plot([x, x, x + mid_step * 0.7, x + mid_step * 0.7], [0, h, h, 0], color="black", lw=1.3, clip_on=False)
            x += mid_step
            k += 1
    ax.plot([0, N_COLS], [0.5, 0.5], color="black", lw=base_lw, clip_on=False, solid_capstyle="butt")


def clean(ax):
    ax.set_xticks([])
    ax.set_yticks([])
    for s in ax.spines.values():
        s.set_visible(False)
    ax.patch.set_alpha(0)


def panel(x0, key_x0, key_x1, side_x0, side_x1, tree_x0, tree_x1, mat, side_codes, side_colors,
          tt_runs, mt_runs, col_tree, row_tree, comb, side_label, side_label_x):
    x1 = x0 + N_COLS
    top, bottom = 435, 1771
    sns.heatmap(mat, ax=pix_ax(x0, top, x1, bottom), cmap=ListedColormap(key_colors), vmin=0, vmax=1,
                cbar=False, xticklabels=False, yticklabels=False, rasterized=True)
    strip(pix_ax(x0, 337, x1, 381), expand_strip(tt_runs, N_COLS)[None, :], list(strip_colors.values()))
    strip(pix_ax(x0, 381, x1, 424), expand_strip(mt_runs, N_COLS)[None, :], list(strip_colors.values()))
    strip(pix_ax(side_x0, top, side_x1, bottom), side_codes[:, None], side_colors)

    col_ax = pix_ax(x0, 53, x1, 327)
    col_ax.set_xlim(0, N_COLS)
    col_ax.set_ylim(0, 274)
    clean(col_ax)
    draw_tree(col_ax, col_tree, True)
    draw_comb(col_ax, *comb)

    row_ax = pix_ax(tree_x0, top, tree_x1, bottom)
    row_ax.set_xlim(tree_x1 - tree_x0, 0)
    row_ax.set_ylim(bottom - top, 0)
    clean(row_ax)
    draw_tree(row_ax, row_tree, False)

    sns.heatmap(np.array(key_values)[None, :], ax=pix_ax(key_x0, 95, key_x1, 204), cmap=ListedColormap(key_colors),
                vmin=0, vmax=1, cbar=False, xticklabels=False, yticklabels=False, rasterized=True)
    axis_ax = pix_ax(key_x0, 95, key_x1, 204)
    axis_ax.patch.set_alpha(0)
    for name in ["top", "left", "right", "bottom"]:
        axis_ax.spines[name].set_visible(False)
    axis_ax.set_xlim(0, 1)
    axis_ax.set_yticks([])
    axis_ax.set_xticks([0, 0.2, 0.4, 0.6, 0.8, 1.0])
    axis_ax.set_xticklabels(key_ticks, fontsize=24)
    axis_ax.tick_params(axis="x", bottom=False, length=10, pad=16)
    # axis line and ticks of the key, on top of everything
    over.plot([key_x0, key_x1], [204, 204], color="black", lw=2.0, solid_capstyle="projecting")
    for tick in axis_ax.get_xticks():
        tick_x = key_x0 + tick * (key_x1 - key_x0)
        over.plot([tick_x, tick_x], [204, 218], color="black", lw=1.6, solid_capstyle="butt")
    mid = (key_x0 + key_x1) / 2

    over.text(mid - 1, 71, "Color Key", fontsize=20, fontweight="bold", ha="center", va="center")
    over.text(mid + 1, 269, "Activity", fontsize=20, ha="center", va="center")
    over.text(x0 - 23, 359, "TT", fontsize=22, ha="right", va="center")
    over.text(x0 - 23, 402, "MT", fontsize=22, ha="right", va="center")
    over.text((x0 + x1) / 2 + 1, 1791, "Metabolic Landscape", fontsize=21.3, ha="center", va="center")
    over.text(x1 + 21, 1105, "Reaction Activity", fontsize=21, rotation=90, ha="center", va="center")
    over.text(side_label_x, 1803, side_label, fontsize=21, rotation=90, ha="center", va="center")


over = fig.add_axes([0, 0, 1, 1], zorder=5)
over.set_xlim(0, W)
over.set_ylim(H, 0)
over.axis("off")
over.patch.set_alpha(0)


def legend(swatch_x, text_x, title, y_title, names, colors, y_first):
    over.text(text_x, y_title + 2, title, fontsize=21, ha="left", va="center")
    for i, (name, color) in enumerate(zip(names, colors)):
        y = y_first + i * 35.5
        over.add_patch(Rectangle((swatch_x, y - 9.5), 23, 19, facecolor=color, edgecolor="none"))
        over.text(text_x, y + 2, name, fontsize=21, ha="left", va="center")


mat_left = build_matrix(bands_left, N_ROWS_LEFT, A_LEFT, B_LEFT)
mat_right = build_matrix(bands_right, N_ROWS_RIGHT, A_RIGHT, B_RIGHT)

panel(435, 143, 367, 394, 424, 51, 381, mat_left, expand_side(gene_left, N_ROWS_LEFT), gene_colors,
      tt_left, mt_left, tree_cols_left, tree_rows_left,
      ([(0, 230), (346, 1300)], 4, 0.7, 22, 0.55, 3.5), "R", 408)
panel(2304, 2011, 2236, 2262, 2293, 1920, 2251, mat_right, expand_side(loc_right, N_ROWS_RIGHT), loc_colors,
      tt_right, mt_right, tree_cols_right, tree_rows_right,
      ([(0, 470), (578, 1331)], 2.5, 1.1, 14, 0.85, 6), "L", 2277)

# comb along the row leaves
leaf_ax = pix_ax(0, 435, W, 1771)
leaf_ax.set_xlim(0, W)
leaf_ax.set_ylim(1336, 0)
clean(leaf_ax)
leaf_ax.plot([381, 381], [0, 1336], color="black", lw=1.4, clip_on=False)
leaf_ax.plot([2250, 2250], [5, 570], color="black", lw=1.6, clip_on=False)
for i, tick in enumerate(row_ticks_right):
    leaf_ax.plot([2251 - tick, 2251], [(i + 0.5) * 1336 / N_ROWS_RIGHT] * 2, color="black", lw=1.4)

legend(63, 94, "Tissue Type (TT)", 380, tissue_names, tissue_colors, 415)
legend(63, 94, "Morph. Type (MT)", 522, morph_names, morph_colors, 556)
legend(63, 94, "Gene Rules (R)", 733, gene_names, gene_colors, 767)
legend(1932, 1963, "Tissue Type (TT)", 380, tissue_names, tissue_colors, 415)
legend(1932, 1963, "Morph. Type (MT)", 522, morph_names, morph_colors, 556)
legend(1932, 1963, "Location (L)", 733, loc_names, loc_colors, 768)

fig.savefig("out.png", dpi=100, facecolor="white")
